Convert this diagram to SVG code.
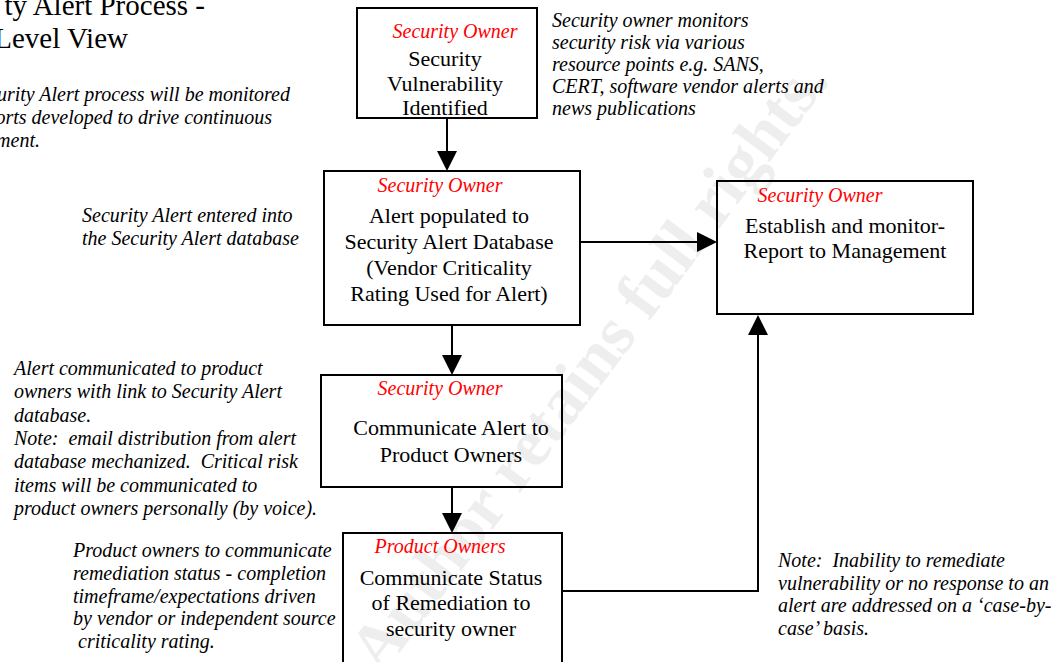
<svg xmlns="http://www.w3.org/2000/svg" width="1060" height="662" viewBox="0 0 1060 662">
<style>
.t{font-family:"Liberation Serif","Times New Roman",serif;font-size:22px;fill:#000}
.n{font-family:"Liberation Serif","Times New Roman",serif;font-size:20px;font-style:italic;fill:#000}
.r{font-family:"Liberation Serif","Times New Roman",serif;font-size:20px;font-style:italic;fill:#ff0000}
.h{font-family:"Liberation Serif","Times New Roman",serif;font-size:29px;fill:#000}
.box{fill:none;stroke:#000;stroke-width:2}
.c{fill:none;stroke:#000;stroke-width:2}
.wm{font-family:"Liberation Serif","Times New Roman",serif;font-size:68px;font-weight:bold;fill:#eeeeee}
</style>
<defs>
<marker id="ah" viewBox="0 0 20 20" refX="10" refY="10" markerWidth="20" markerHeight="20" orient="auto" markerUnits="userSpaceOnUse">
<path d="M0,0 L20,10 L0,20 z" fill="#000"/>
</marker>
</defs>
<rect x="0" y="0" width="1060" height="662" fill="#fff"/>
<text class="wm" transform="translate(382,676) rotate(-53)">Author retains full rights.</text>

<g id="title">
<text class="h" x="205" y="15" text-anchor="end">ty Alert Process -</text>
<text class="h" x="128" y="48" text-anchor="end">Level View</text>
</g>
<g id="note-top-left">
<text class="n" x="290" y="101" text-anchor="end">urity Alert process will be monitored</text>
<text class="n" x="272" y="124" text-anchor="end">orts developed to drive continuous</text>
<text class="n" x="40" y="147" text-anchor="end">ment.</text>
</g>
<g id="note-top-right">
<text class="n" x="552" y="26.5">Security owner monitors</text>
<text class="n" x="552" y="48.5">security risk via various</text>
<text class="n" x="552" y="70.7">resource points e.g. SANS,</text>
<text class="n" x="552" y="92.8">CERT, software vendor alerts and</text>
<text class="n" x="552" y="115">news publications</text>
</g>
<g id="note-db">
<text class="n" x="82" y="222">Security Alert entered into</text>
<text class="n" x="82" y="245">the Security Alert database</text>
</g>
<g id="note-communicate">
<text class="n" x="14" y="375">Alert communicated to product</text>
<text class="n" x="14" y="398">owners with link to Security Alert</text>
<text class="n" x="14" y="421.5">database.</text>
<text class="n" x="14" y="445" xml:space="preserve">Note:  email distribution from alert</text>
<text class="n" x="14" y="468" xml:space="preserve">database mechanized.  Critical risk</text>
<text class="n" x="14" y="491.5">items will be communicated to</text>
<text class="n" x="14" y="514.5">product owners personally (by voice).</text>
</g>
<g id="note-status">
<text class="n" x="73" y="557">Product owners to communicate</text>
<text class="n" x="73" y="580">remediation status - completion</text>
<text class="n" x="73" y="602.5">timeframe/expectations driven</text>
<text class="n" x="73" y="625">by vendor or independent source</text>
<text class="n" x="78" y="648">criticality rating.</text>
</g>
<g id="note-right">
<text class="n" x="778" y="567" xml:space="preserve">Note:  Inability to remediate</text>
<text class="n" x="778" y="589.5">vulnerability or no response to an</text>
<text class="n" x="778" y="612">alert are addressed on a ‘case-by-</text>
<text class="n" x="778" y="635">case’ basis.</text>
</g>

<g id="connectors">
<path class="c" d="M447,118 V161" marker-end="url(#ah)"/>
<path class="c" d="M580,242 H707" marker-end="url(#ah)"/>
<path class="c" d="M452,325 V365" marker-end="url(#ah)"/>
<path class="c" d="M452,487 V523" marker-end="url(#ah)"/>
<path class="c" d="M562,591 H758 V325" marker-end="url(#ah)"/>
</g>

<g id="node-identified">
<rect class="box" x="357" y="8" width="180" height="110"/>
<text class="r" x="455" y="37.5" text-anchor="middle">Security Owner</text>
<text class="t" x="445" y="65.5" text-anchor="middle">Security</text>
<text class="t" x="445" y="90.5" text-anchor="middle">Vulnerability</text>
<text class="t" x="445" y="115" text-anchor="middle">Identified</text>
</g>
<g id="node-database">
<rect class="box" x="324" y="171" width="256" height="154"/>
<text class="r" x="440" y="192" text-anchor="middle">Security Owner</text>
<text class="t" x="449" y="223" text-anchor="middle">Alert populated to</text>
<text class="t" x="449" y="248.5" text-anchor="middle">Security Alert Database</text>
<text class="t" x="449" y="274.5" text-anchor="middle">(Vendor Criticality</text>
<text class="t" x="449" y="300.5" text-anchor="middle">Rating Used for Alert)</text>
</g>
<g id="node-report">
<rect class="box" x="717" y="181" width="256" height="133"/>
<text class="r" x="820" y="202" text-anchor="middle">Security Owner</text>
<text class="t" x="845" y="233" text-anchor="middle">Establish and monitor-</text>
<text class="t" x="845" y="258" text-anchor="middle">Report to Management</text>
</g>
<g id="node-communicate">
<rect class="box" x="321" y="375" width="241" height="112"/>
<text class="r" x="440" y="395" text-anchor="middle">Security Owner</text>
<text class="t" x="451" y="435" text-anchor="middle">Communicate Alert to</text>
<text class="t" x="451" y="461.5" text-anchor="middle">Product Owners</text>
</g>
<g id="node-status">
<rect class="box" x="343" y="533" width="219" height="150"/>
<text class="r" x="440" y="553" text-anchor="middle">Product Owners</text>
<text class="t" x="451" y="585" text-anchor="middle">Communicate Status</text>
<text class="t" x="451" y="610" text-anchor="middle">of Remediation to</text>
<text class="t" x="451" y="636" text-anchor="middle">security owner</text>
</g>
</svg>
